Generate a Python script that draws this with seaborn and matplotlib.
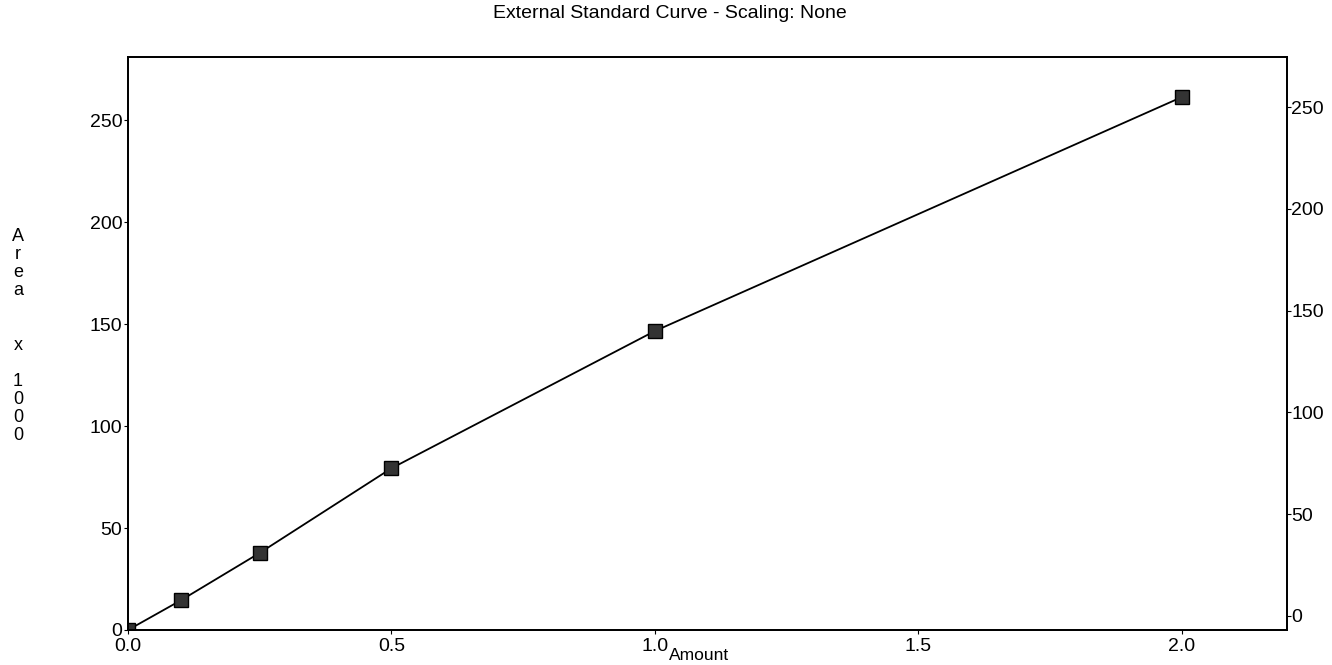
import matplotlib
matplotlib.use("Agg")
import matplotlib.pyplot as plt
import seaborn as sns
import pandas as pd

# Calibration standards: amount vs. peak area (in thousands)
amounts = [0.0, 0.1, 0.25, 0.5, 1.0, 2.0]
areas = [0.0, 14.5, 37.8, 79.3, 146.6, 261.3]
y_ticks = [0, 50, 100, 150, 200, 250]
x_ticks = [0.0, 0.5, 1.0, 1.5, 2.0]

sns.set_theme(style="white")
plt.rcParams["font.family"] = ["Liberation Sans", "DejaVu Sans"]
plt.rcParams.update({"text.color": "black", "axes.labelcolor": "black",
                     "xtick.color": "black", "ytick.color": "black"})

df = pd.DataFrame({"Amount": amounts, "Area": areas})

fig = plt.figure(figsize=(13.32, 6.65), dpi=100)
ax = fig.add_axes([128 / 1332, 1 - 630 / 665, (1287 - 128) / 1332, (630 - 57) / 665])

sns.lineplot(data=df, x="Amount", y="Area", ax=ax, color="black", linewidth=1.3,
             marker="s", markersize=10, markerfacecolor="#333333",
             markeredgecolor="black", markeredgewidth=1.0, sort=False)

TICK_FS = 14
ax.set_xlim(0, 2.2)
ax.set_ylim(0, 281)
ax.set_xticks(x_ticks)
ax.set_xticklabels([f"{v:.1f}" for v in x_ticks])
ax.set_yticks(y_ticks)
ax.set_yticklabels([str(v) for v in y_ticks])
ax.tick_params(axis="y", labelsize=TICK_FS, length=3, width=0.8,
               direction="out", pad=1, left=True)
ax.tick_params(axis="x", labelsize=TICK_FS, length=3, width=0.8,
               direction="out", pad=3, bottom=True)
ax.set_xlabel("Amount", fontsize=12.5)
ax.xaxis.set_label_coords(0.493, -0.031)
ax.set_ylabel("")
for s in ax.spines.values():
    s.set_color("black")
    s.set_linewidth(1.3)

# Secondary scale on the right
ax2 = ax.twinx()
ax2.set_ylim(-6.9, 274.6)
ax2.set_yticks(y_ticks)
ax2.set_yticklabels([str(v) for v in y_ticks])
ax2.tick_params(axis="y", labelsize=TICK_FS, length=3, width=0.8,
                direction="out", pad=0, right=True)
ax2.grid(False)
for s in ax2.spines.values():
    s.set_color("black")
    s.set_linewidth(1.3)

fig.text(0.503, 1 - 13 / 665, "External Standard Curve - Scaling: None",
         ha="center", va="center", fontsize=14)

# Vertical stacked axis caption
fig.text(18 / 1332, 1 - 336 / 665, "\n".join(list("Area")) + "\n\n\nx\n\n1\n0\n0\n0",
         ha="center", va="center", fontsize=13, linespacing=1.08)

fig.savefig("out.png", dpi=100)
